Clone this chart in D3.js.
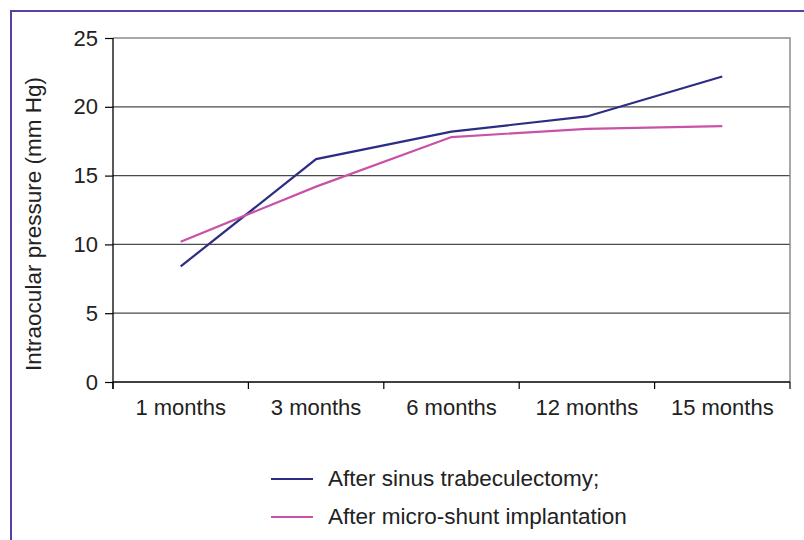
<!DOCTYPE html>
<html>
<head>
<meta charset="utf-8">
<script src="https://cdn.jsdelivr.net/npm/d3@7"></script>
<style>
  body { margin: 0; background: #fff; }
  svg { display: block; font-family: "Liberation Sans", Arial, sans-serif; }
  .tick text { fill: #222; }
</style>
</head>
<body>
<svg id="chart" width="804" height="540"></svg>
<script>
// data
var months = ["1 months", "3 months", "6 months", "12 months", "15 months"];
var trabeculectomy = [8.4, 16.2, 18.2, 19.3, 22.2];
var microShunt = [10.2, 14.2, 17.8, 18.4, 18.6];
var yTicks = [0, 5, 10, 15, 20, 25];
var seriesNames = ["After sinus trabeculectomy;", "After micro-shunt implantation"];
var seriesColors = ["#2d2c84", "#c852a8"];

var fontSize = 22;
var svg = d3.select("#chart");

// purple frame, runs off the right and bottom edge
svg.append("rect")
    .attr("x", 11).attr("y", 11)
    .attr("width", 820).attr("height", 560)
    .attr("fill", "none")
    .attr("stroke", "#5b40a2")
    .attr("stroke-width", 2);

var margin = {top: 38, left: 113},
    width = 677,
    height = 344;

var g = svg.append("g").attr("transform", "translate(" + margin.left + "," + margin.top + ")");

var x = d3.scaleBand().domain(months).range([0, width]);
var y = d3.scaleLinear().domain([0, 25]).range([height, 0]);

// horizontal grid
g.selectAll(".grid")
    .data(yTicks.filter(function(d) { return d > 0 && d < 25; }))
    .enter().append("line")
    .attr("x1", 0).attr("x2", width)
    .attr("y1", function(d) { return y(d); })
    .attr("y2", function(d) { return y(d); })
    .attr("stroke", "#4a4a4a")
    .attr("stroke-width", 1.2);

// top and right frame of plot
g.append("path")
    .attr("d", "M0," + y(25) + "H" + width + "V" + height)
    .attr("fill", "none")
    .attr("stroke", "#8c8c8c")
    .attr("stroke-width", 1.5);

// y axis
var yAxis = d3.axisLeft(y).tickValues(yTicks).tickSize(8).tickPadding(7);
var yg = g.append("g").call(yAxis);
yg.select(".domain").attr("d", "M0,0V" + (height + 7)).attr("stroke", "#000").attr("stroke-width", 1.3);
yg.selectAll(".tick line").attr("stroke", "#000").attr("stroke-width", 1.2);
yg.selectAll("text").attr("font-size", fontSize);

// x axis - ticks on band boundaries
var xg = g.append("g").attr("transform", "translate(0," + height + ")");
xg.append("line").attr("x1", 0).attr("x2", width).attr("stroke", "#000").attr("stroke-width", 1.5);
var bounds = months.map(function(m) { return x(m); }).concat([width]);
xg.selectAll(".xtick").data(bounds).enter().append("line")
    .attr("x1", function(d) { return d; }).attr("x2", function(d) { return d; })
    .attr("y1", 0).attr("y2", 7)
    .attr("stroke", "#000").attr("stroke-width", 1.2);
xg.selectAll(".xlab").data(months).enter().append("text")
    .attr("x", function(d) { return x(d) + x.bandwidth() / 2; })
    .attr("y", 33)
    .attr("text-anchor", "middle")
    .attr("font-size", fontSize)
    .attr("fill", "#222")
    .text(function(d) { return d; });

// axis title
svg.append("text")
    .attr("transform", "translate(41,224) rotate(-90)")
    .attr("text-anchor", "middle")
    .attr("font-size", 22.5)
    .attr("fill", "#222")
    .text("Intraocular pressure (mm Hg)");

// lines
var line = d3.line()
    .x(function(d, i) { return x(months[i]) + x.bandwidth() / 2; })
    .y(function(d) { return y(d); });

[trabeculectomy, microShunt].forEach(function(s, i) {
    g.append("path")
        .datum(s)
        .attr("d", line)
        .attr("fill", "none")
        .attr("stroke", seriesColors[i])
        .attr("stroke-width", 2.2);
});

// legend
var legend = svg.append("g").attr("transform", "translate(271,479)");
seriesNames.forEach(function(name, i) {
    var row = legend.append("g").attr("transform", "translate(0," + (i * 38) + ")");
    row.append("line").attr("x1", 0).attr("x2", 42)
        .attr("stroke", seriesColors[i]).attr("stroke-width", 2);
    row.append("text").attr("x", 57).attr("y", 7)
        .attr("font-size", 22.5).attr("fill", "#222")
        .text(name);
});
</script>
</body>
</html>
